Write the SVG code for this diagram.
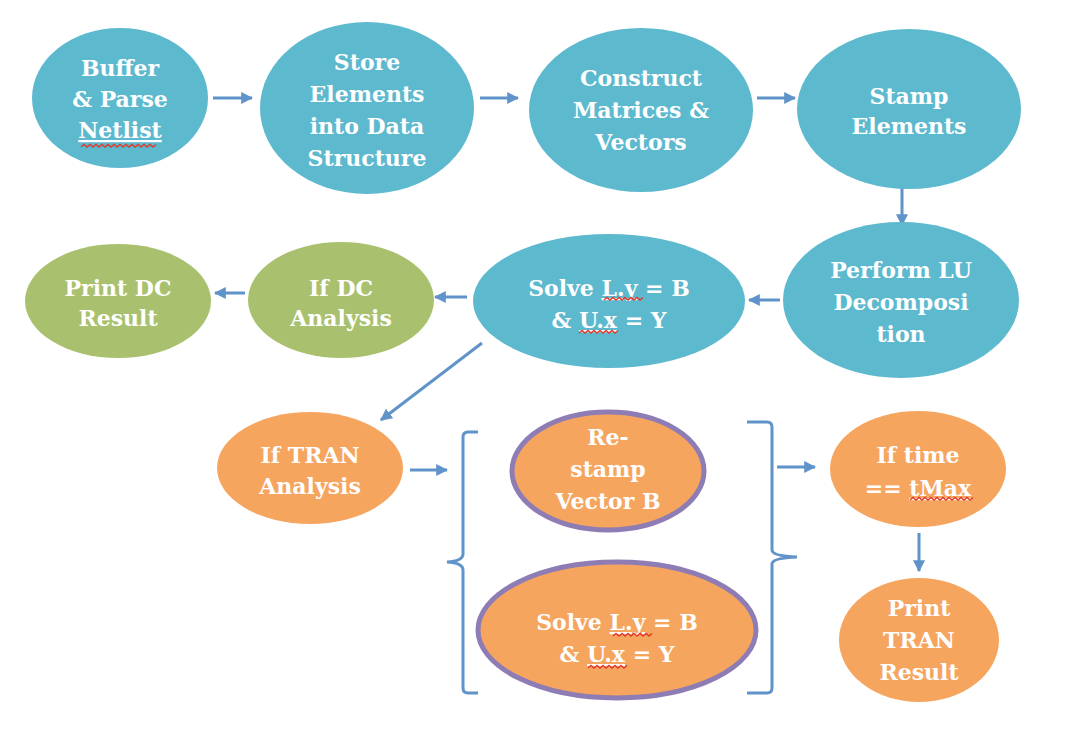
<svg xmlns="http://www.w3.org/2000/svg" width="1078" height="742" viewBox="0 0 1078 742">
<defs>
<style>
.blue{fill:#5DB9CE}
.green{fill:#A9C16E}
.orange{fill:#F6A55F}
.ring{stroke:#8E7CB4;stroke-width:5}
.t{font-family:"DejaVu Serif","Liberation Serif",serif;font-weight:bold;font-size:22px;fill:#fff;text-anchor:middle}
.u{text-decoration:underline}
.conn{stroke:#5F93C9;stroke-width:3;fill:none}
.sq{stroke:#E03A2A;stroke-width:1.4;fill:none}
</style>
<marker id="ah" viewBox="0 0 10 10" refX="9" refY="5" markerWidth="4" markerHeight="4" orient="auto" markerUnits="strokeWidth">
<path d="M0,0 L10,5 L0,10 z" fill="#5F93C9"/>
</marker>
</defs>
<rect width="1078" height="742" fill="#fff"/>
<g id="connectors">
<line class="conn" x1="213" y1="98" x2="252" y2="98" marker-end="url(#ah)"/>
<line class="conn" x1="480" y1="98" x2="518" y2="98" marker-end="url(#ah)"/>
<line class="conn" x1="757" y1="98" x2="795" y2="98" marker-end="url(#ah)"/>
<line class="conn" x1="902" y1="188" x2="902" y2="225" marker-end="url(#ah)"/>
<line class="conn" x1="780" y1="300" x2="749" y2="300" marker-end="url(#ah)"/>
<line class="conn" x1="467" y1="297" x2="435" y2="297" marker-end="url(#ah)"/>
<line class="conn" x1="245" y1="293" x2="215" y2="293" marker-end="url(#ah)"/>
<line class="conn" x1="482" y1="343" x2="381" y2="420" marker-end="url(#ah)"/>
<line class="conn" x1="410" y1="470" x2="447" y2="470" marker-end="url(#ah)"/>
<line class="conn" x1="777" y1="467" x2="815" y2="467" marker-end="url(#ah)"/>
<line class="conn" x1="919" y1="533" x2="919" y2="571" marker-end="url(#ah)"/>
<path class="conn" d="M478,432 H468 Q463,432 463,437 V554 Q463,561 447,562 Q463,563 463,570 V688 Q463,693 468,693 H478"/>
<path class="conn" d="M747,422 H767 Q772,422 772,427 V550 Q772,556 797,557 Q772,558 772,564 V688 Q772,693 767,693 H747"/>
</g>
<g id="n1"><ellipse class="blue" cx="120" cy="98" rx="88" ry="70"/>
<text class="t" x="120" y="76">Buffer</text><text class="t" x="120" y="107">&amp; Parse</text><text class="t" x="120" y="138"><tspan class="u">Netlist</tspan></text>
<path class="sq" d="M81,147 l3,-2.5 l3,2.5 l3,-2.5 l3,2.5 l3,-2.5 l3,2.5 l3,-2.5 l3,2.5 l3,-2.5 l3,2.5 l3,-2.5 l3,2.5 l3,-2.5 l3,2.5 l3,-2.5 l3,2.5 l3,-2.5 l3,2.5 l3,-2.5 l3,2.5 l3,-2.5 l3,2.5 l3,-2.5 l3,2.5 l3,-2.5"/></g>
<g id="n2"><ellipse class="blue" cx="367" cy="108" rx="107" ry="86"/>
<text class="t" x="367" y="70">Store</text><text class="t" x="367" y="102">Elements</text><text class="t" x="367" y="134">into Data</text><text class="t" x="367" y="166">Structure</text></g>
<g id="n3"><ellipse class="blue" cx="641" cy="110" rx="112" ry="82"/>
<text class="t" x="641" y="86">Construct</text><text class="t" x="641" y="118">Matrices &amp;</text><text class="t" x="641" y="150">Vectors</text></g>
<g id="n4"><ellipse class="blue" cx="909" cy="109" rx="112" ry="80"/>
<text class="t" x="909" y="104">Stamp</text><text class="t" x="909" y="134">Elements</text></g>
<g id="n5"><ellipse class="blue" cx="901" cy="300" rx="118" ry="78"/>
<text class="t" x="901" y="278">Perform LU</text><text class="t" x="901" y="310">Decomposi</text><text class="t" x="901" y="342">tion</text></g>
<g id="n6"><ellipse class="blue" cx="609" cy="301" rx="136" ry="67"/>
<text class="t" x="609" y="296">Solve <tspan class="u">L.y</tspan> = B</text><text class="t" x="609" y="328">&amp; <tspan class="u">U.x</tspan> = Y</text>
<path class="sq" d="M604,300 l3,-2.5 l3,2.5 l3,-2.5 l3,2.5 l3,-2.5 l3,2.5 l3,-2.5 l3,2.5 l3,-2.5 l3,2.5 l3,-2.5 l3,2.5 l3,-2.5"/>
<path class="sq" d="M579,333 l3,-2.5 l3,2.5 l3,-2.5 l3,2.5 l3,-2.5 l3,2.5 l3,-2.5 l3,2.5 l3,-2.5 l3,2.5 l3,-2.5 l3,2.5 l3,-2.5"/></g>
<g id="n7"><ellipse class="green" cx="341" cy="300" rx="93" ry="58"/>
<text class="t" x="341" y="296">If DC</text><text class="t" x="341" y="326">Analysis</text></g>
<g id="n8"><ellipse class="green" cx="118" cy="301" rx="93" ry="57"/>
<text class="t" x="118" y="296">Print DC</text><text class="t" x="118" y="326">Result</text></g>
<g id="n9"><ellipse class="orange" cx="310" cy="468" rx="93" ry="56"/>
<text class="t" x="310" y="463">If TRAN</text><text class="t" x="310" y="494">Analysis</text></g>
<g id="n10"><ellipse class="orange ring" cx="608" cy="471" rx="96" ry="59"/>
<text class="t" x="608" y="445">Re-</text><text class="t" x="608" y="477">stamp</text><text class="t" x="608" y="509">Vector B</text></g>
<g id="n11"><ellipse class="orange ring" cx="617" cy="630" rx="139" ry="68"/>
<text class="t" x="617" y="630">Solve <tspan class="u">L.y</tspan> = B</text><text class="t" x="617" y="662">&amp; <tspan class="u">U.x</tspan> = Y</text>
<path class="sq" d="M613,636 l3,-2.5 l3,2.5 l3,-2.5 l3,2.5 l3,-2.5 l3,2.5 l3,-2.5 l3,2.5 l3,-2.5 l3,2.5 l3,-2.5 l3,2.5 l3,-2.5"/>
<path class="sq" d="M588,668 l3,-2.5 l3,2.5 l3,-2.5 l3,2.5 l3,-2.5 l3,2.5 l3,-2.5 l3,2.5 l3,-2.5 l3,2.5 l3,-2.5 l3,2.5 l3,-2.5"/></g>
<g id="n12"><ellipse class="orange" cx="918" cy="469" rx="88" ry="58"/>
<text class="t" x="918" y="463">If time</text><text class="t" x="918" y="496">== <tspan class="u">tMax</tspan></text>
<path class="sq" d="M910,500 l3,-2.5 l3,2.5 l3,-2.5 l3,2.5 l3,-2.5 l3,2.5 l3,-2.5 l3,2.5 l3,-2.5 l3,2.5 l3,-2.5 l3,2.5 l3,-2.5 l3,2.5 l3,-2.5 l3,2.5 l3,-2.5 l3,2.5 l3,-2.5 l3,2.5 l3,-2.5"/></g>
<g id="n13"><ellipse class="orange" cx="919" cy="640" rx="80" ry="62"/>
<text class="t" x="919" y="616">Print</text><text class="t" x="919" y="648">TRAN</text><text class="t" x="919" y="680">Result</text></g>
</svg>
